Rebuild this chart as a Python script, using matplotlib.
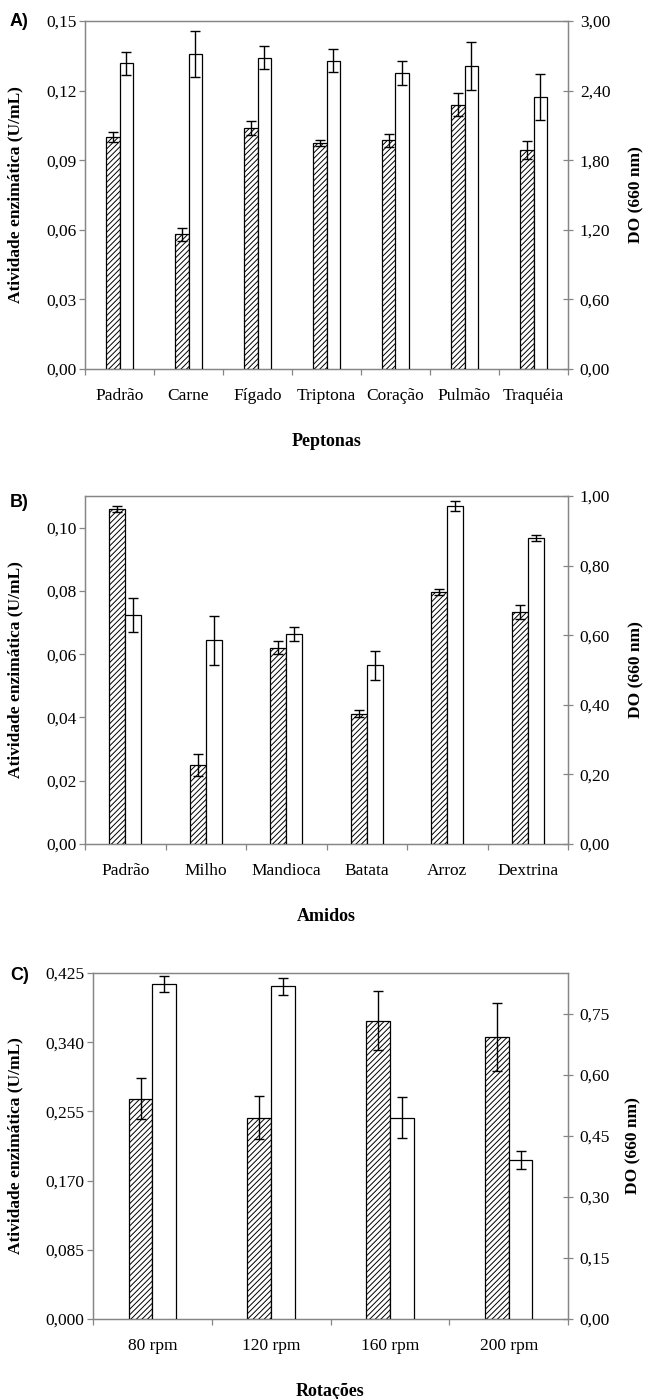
import matplotlib
matplotlib.use("Agg")
import matplotlib.pyplot as plt
from matplotlib.ticker import FixedLocator, FuncFormatter
import numpy as np

plt.rcParams['font.family'] = ['Liberation Serif', 'DejaVu Serif']
plt.rcParams['hatch.linewidth'] = 0.7

# ---- A) Peptonas ----
pep_cats = ['Padrão', 'Carne', 'Fígado', 'Triptona', 'Coração', 'Pulmão', 'Traquéia']
pep_act = [0.100, 0.058, 0.104, 0.0975, 0.0987, 0.114, 0.0945]
pep_act_err = [0.0023, 0.0027, 0.003, 0.0014, 0.0028, 0.0048, 0.0039]
pep_do = [2.634, 2.714, 2.683, 2.657, 2.553, 2.613, 2.345]
pep_do_err = [0.102, 0.198, 0.098, 0.099, 0.101, 0.208, 0.196]

# ---- B) Amidos ----
ami_cats = ['Padrão', 'Milho', 'Mandioca', 'Batata', 'Arroz', 'Dextrina']
ami_act = [0.1059, 0.025, 0.0621, 0.0411, 0.0796, 0.0733]
ami_act_err = [0.001, 0.0034, 0.002, 0.0011, 0.001, 0.0023]
ami_do = [0.658, 0.585, 0.604, 0.513, 0.971, 0.880]
ami_do_err = [0.05, 0.07, 0.021, 0.041, 0.015, 0.009]

# ---- C) Rotações ----
rot_cats = ['80 rpm', '120 rpm', '160 rpm', '200 rpm']
rot_act = [0.2708, 0.2475, 0.3665, 0.3462]
rot_act_err = [0.0255, 0.026, 0.036, 0.042]
rot_do = [0.823, 0.817, 0.495, 0.390]
rot_do_err = [0.0185, 0.020, 0.05, 0.022]

GRAY = '#868686'
W, H = 645, 1399


def comma(fmt):
    return FuncFormatter(lambda v, p: (fmt % v).replace('.', ','))


def panel(rect, letter, letter_y, cats, act, act_err, do, do_err,
          ylim1, yticks1, fmt1, ylim2, yticks2, fmt2, xlabel, ylab_x, ylab2_x):
    ax = fig.add_axes(rect)
    ax2 = ax.twinx()
    n = len(cats)
    x = np.arange(n)
    bw = 0.2
    ax.bar(x - bw / 2, act, bw, yerr=act_err, color='white', edgecolor='black',
           hatch='//////', linewidth=0.9, capsize=3.5,
           error_kw=dict(elinewidth=1.0, capthick=1.0, ecolor='black'), zorder=3)
    ax2.bar(x + bw / 2, do, bw, yerr=do_err, color='white', edgecolor='black',
            linewidth=0.9, capsize=3.5,
            error_kw=dict(elinewidth=1.0, capthick=1.0, ecolor='black'), zorder=3)
    ax.set_xlim(-0.5, n - 0.5)
    ax.set_ylim(*ylim1)
    ax2.set_ylim(*ylim2)
    ax.yaxis.set_major_locator(FixedLocator(yticks1))
    ax.yaxis.set_major_formatter(comma(fmt1))
    ax2.yaxis.set_major_locator(FixedLocator(yticks2))
    ax2.yaxis.set_major_formatter(comma(fmt2))

    # category boundary ticks, labels at centres
    ax.xaxis.set_major_locator(FixedLocator(np.arange(-0.5, n, 1.0)))
    ax.xaxis.set_major_formatter(FuncFormatter(lambda v, p: ''))
    ax.xaxis.set_minor_locator(FixedLocator(x))
    ax.set_xticklabels(cats, minor=True)
    ax.tick_params(axis='x', which='major', direction='out', length=4,
                   color=GRAY, width=0.9)
    ax.tick_params(axis='x', which='minor', length=0, pad=14, labelsize=12.5)
    ax.tick_params(axis='y', direction='out', length=4, color=GRAY, width=0.9,
                   labelsize=12.5, pad=2)
    ax2.tick_params(axis='y', direction='inout', length=7, color=GRAY, width=0.9,
                    labelsize=12.5, pad=5)
    for a in (ax, ax2):
        for s in a.spines.values():
            s.set_color(GRAY)
            s.set_linewidth(0.9)

    ax.set_xlabel(xlabel, fontsize=13, fontweight='bold')
    ax.xaxis.set_label_coords(0.5, -0.185)
    ax.set_ylabel('Atividade enzimática (U/mL)', fontsize=12.5, fontweight='bold')
    ax.yaxis.set_label_coords(ylab_x, 0.5)
    ax2.set_ylabel('DO (660 nm)', fontsize=12.5, fontweight='bold')
    ax2.yaxis.set_label_coords(ylab2_x, 0.5)

    fig.text(10 / W, 1 - letter_y / H, letter, family='Liberation Sans',
             fontweight='bold', fontsize=13, va='center', ha='left')


fig = plt.figure(figsize=(6.45, 13.99), dpi=100)

panel([85 / W, 1 - 369 / H, 483 / W, 348 / H], 'A)', 21,
      pep_cats, pep_act, pep_act_err, pep_do, pep_do_err,
      (0, 0.15), np.arange(0, 0.151, 0.03), '%.2f',
      (0, 3.0), np.arange(0, 3.01, 0.6), '%.2f', 'Peptonas', -0.128, 1.125)

panel([85 / W, 1 - 844 / H, 483 / W, 348 / H], 'B)', 503,
      ami_cats, ami_act, ami_act_err, ami_do, ami_do_err,
      (0, 0.11), np.arange(0, 0.101, 0.02), '%.2f',
      (0, 1.0), np.arange(0, 1.01, 0.2), '%.2f', 'Amidos', -0.128, 1.125)

panel([93 / W, 1 - 1319 / H, 475 / W, 346 / H], 'C)', 975,
      rot_cats, rot_act, rot_act_err, rot_do, rot_do_err,
      (0, 0.425), np.arange(0, 0.426, 0.085), '%.3f',
      (0, 0.85), np.arange(0, 0.76, 0.15), '%.2f', 'Rotações', -0.147, 1.12)

fig.savefig('out.png', dpi=100)
